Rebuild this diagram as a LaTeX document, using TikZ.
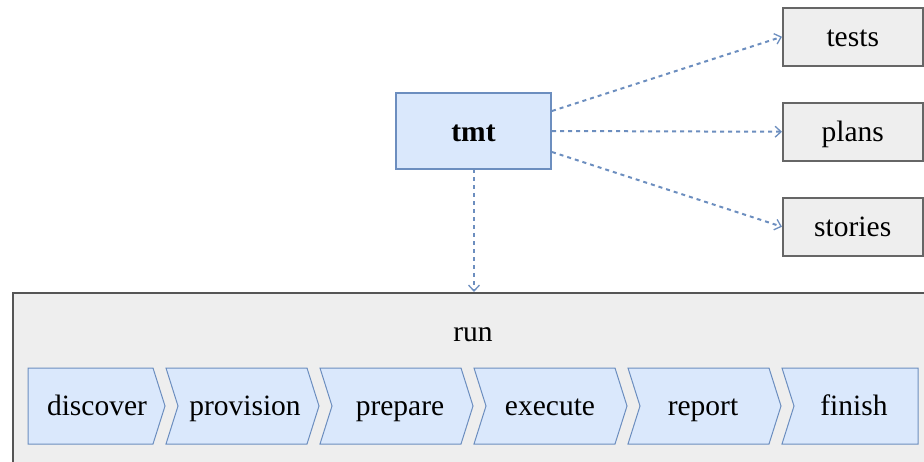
\documentclass[tikz,border=0pt]{standalone}
\usepackage{fontspec}
\setmainfont{Liberation Serif}
\usetikzlibrary{arrows.meta}
\definecolor{bfill}{HTML}{DAE8FC}
\definecolor{bline}{HTML}{6C8EBF}
\definecolor{gfill}{HTML}{EEEEEE}
\definecolor{gline}{HTML}{666666}
\definecolor{rline}{HTML}{555555}
\tikzset{
  x=1pt, y=-1pt,
  lbl/.style={font=\fontsize{29.5}{34}\selectfont, inner sep=0pt, anchor=base},
  graybox/.style={draw=gline, fill=gfill, line width=1.5pt, minimum width=140pt, minimum height=58pt, anchor=north west, inner sep=0pt, text height=22pt, text depth=2pt, font=\fontsize{29.5}{34}\selectfont},
  tmtbox/.style={draw=bline, fill=bfill, line width=2pt, minimum width=155pt, minimum height=76pt, inner sep=0pt, text height=22pt, text depth=2pt, font=\fontsize{29.5}{34}\selectfont\bfseries},
  chev/.style={draw=bline, fill=bfill, line width=1pt, line join=miter},
  link/.style={draw=bline, line width=2pt, dash pattern=on 4pt off 4pt, -{Straight Barb[length=6pt,width=11pt,line width=1.3pt]}}
}
\begin{document}
\begin{tikzpicture}
\useasboundingbox (0,0) rectangle (924,461);
% run container
\node[draw=rline, fill=gfill, line width=2pt, minimum width=925pt, minimum height=180pt, anchor=north west, inner sep=0pt] (run) at (12,292) {};
\node[lbl] (runlbl) at (473,341) {run};
% chevrons
\draw[chev] (28,368) -- (153,368) -- (165,406) -- (153,444) -- (28,444) -- cycle;
\node[lbl] (discover) at (97,415) {discover};
\foreach \x/\n/\t/\c in {166/provision/provision/245, 320/prepare/prepare/400, 474/execute/execute/550, 628/report/report/703}{
  \draw[chev] (\x,368) -- (\x+141,368) -- (\x+153,406) -- (\x+141,444) -- (\x,444) -- (\x+12,406) -- cycle;
  \node[lbl] (\n) at (\c,415) {\t};
}
\draw[chev] (782,368) -- (918,368) -- (918,444) -- (782,444) -- (794,406) -- cycle;
\node[lbl] (finish) at (854,415) {finish};
% top nodes
\node[tmtbox] (tmt) at (473.5,131) {tmt};
\coordinate (tmtdown) at (474,169);
\node[graybox] (tests) at (782,7) {tests};
\node[graybox] (plans) at (782,102) {plans};
\node[graybox] (stories) at (782,197) {stories};
% links
\draw[link] ([yshift=20pt]tmt.east) -- (tests.west);
\draw[link] (tmt.east) -- (plans.west);
\draw[link] ([yshift=-21pt]tmt.east) -- (stories.west);
\draw[link] (tmtdown) -- (tmtdown |- run.north);
\end{tikzpicture}
\end{document}
